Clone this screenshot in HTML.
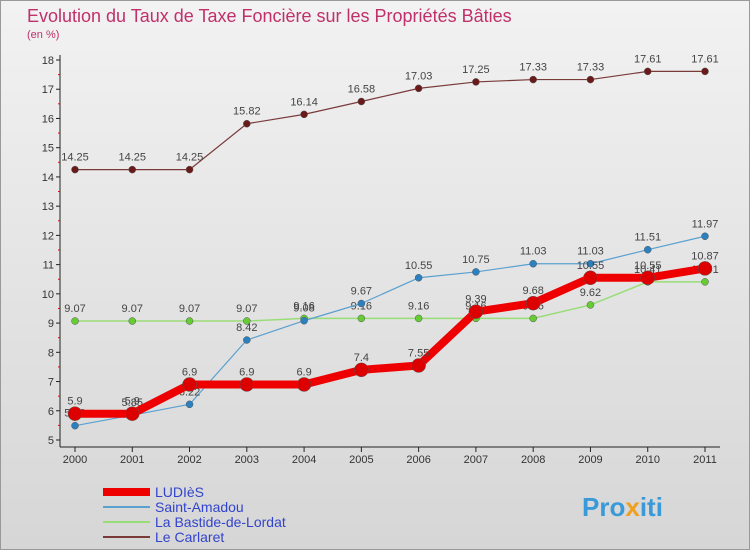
<!DOCTYPE html>
<html><head><meta charset="utf-8"><style>
body{margin:0;background:#fff}
#c{position:relative;width:750px;height:550px;font-family:"Liberation Sans",sans-serif}
</style></head><body>
<div id="c">
<svg id="s" width="750" height="550" xmlns="http://www.w3.org/2000/svg">
<defs><linearGradient id="bg" x1="0" y1="0" x2="0" y2="1"><stop offset="0" stop-color="#f2f2f2"/><stop offset="1" stop-color="#d6d6d6"/></linearGradient></defs>
<rect x="0.5" y="0.5" width="749" height="549" fill="url(#bg)" stroke="#999"/>
<text x="27" y="22" font-size="18" fill="#c0306a">Evolution du Taux de Taxe Foncière sur les Propriétés Bâties</text>
<text x="27" y="38" font-size="11" fill="#c0306a">(en %)</text>
<g id="axes"></g><g id="series"></g><g id="legend"></g>
<text x="582" y="516" font-size="26" font-weight="bold" fill="#3a9ad9">Pro<tspan fill="#f0a020">x</tspan>iti</text>
</svg></div>
<script>
const years=[2000,2001,2002,2003,2004,2005,2006,2007,2008,2009,2010,2011];
const yTicks=[5,6,7,8,9,10,11,12,13,14,15,16,17,18];
const ludies=[5.9,5.9,6.9,6.9,6.9,7.4,7.55,9.39,9.68,10.55,10.55,10.87];
const saintAmadou=[5.49,5.85,6.22,8.42,9.08,9.67,10.55,10.75,11.03,11.03,11.51,11.97];
const bastide=[9.07,9.07,9.07,9.07,9.16,9.16,9.16,9.16,9.16,9.62,10.41,10.41];
const carlaret=[14.25,14.25,14.25,15.82,16.14,16.58,17.03,17.25,17.33,17.33,17.61,17.61];
const names=["LUDIèS","Saint-Amadou","La Bastide-de-Lordat","Le Carlaret"];
const NS="http://www.w3.org/2000/svg";
const X=i=>75+i*(630/11), Y=v=>440-(v-5)*(380/13);
function mk(tag,at,parent,txt){const e=document.createElementNS(NS,tag);for(const k in at)e.setAttribute(k,at[k]);if(txt!==undefined)e.textContent=txt;parent.appendChild(e);return e;}
const ax=document.getElementById('axes');
let a=mk('line',{x1:60,y1:55,x2:60,y2:447,stroke:'#222'},ax);


a=mk('line',{x1:60,y1:447,x2:720,y2:447,stroke:'#222'},ax);


yTicks.forEach(v=>{const t=mk('text',{x:54,y:Y(v)+4,'font-size':11,fill:'#333','text-anchor':'end'},ax,String(v));


mk('line',{x1:56,y1:Y(v),x2:60,y2:Y(v),stroke:'#222'},ax);
if(v<18)mk('line',{x1:58,y1:Y(v+0.5),x2:60,y2:Y(v+0.5),stroke:'#e00'},ax);});
years.forEach((y,i)=>{const t=mk('text',{x:X(i),y:463,'font-size':11,fill:'#333','text-anchor':'middle'},ax,String(y));


mk('line',{x1:X(i),y1:447,x2:X(i),y2:452,stroke:'#222'},ax);});
const sg=document.getElementById('series');
const cfg=[[carlaret,'#7a3a3a','#6a1a1a',1.2,3.5,'series-le-carlaret'],[bastide,'#99dd77','#66cc33',1.5,3.5,'series-la-bastide'],[saintAmadou,'#5aa0d0','#2a80c0',1.2,3.5,'series-saint-amadou'],[ludies,'#ee0000','#dd0000',8,7,'series-ludies']];
cfg.forEach(([d,lc,pc,w,r,n])=>{const g=mk('g',{},sg);


mk('polyline',{points:d.map((v,i)=>X(i)+','+Y(v)).join(' '),fill:'none',stroke:lc,'stroke-width':w,'stroke-linejoin':'round'},g);
d.forEach((v,i)=>{const c=mk('circle',{cx:X(i),cy:Y(v),r:r,fill:pc,stroke:'#555','stroke-width':0.5},g);


mk('text',{x:X(i),y:Y(v)-9,'font-size':11,fill:'#444','text-anchor':'middle'},g,String(v));});});
const lg=document.getElementById('legend');
const lc=[['#ee0000',8],['#5aa0d0',2],['#99dd77',2],['#7a3a3a',2]];
names.forEach((n,i)=>{const y=492+i*15;const g=mk('g',{},lg);


mk('line',{x1:103,y1:y,x2:150,y2:y,stroke:lc[i][0],'stroke-width':lc[i][1]},g);
mk('text',{x:155,y:y+5,'font-size':14,fill:'#3344cc'},g,n);});
</script></body></html>
